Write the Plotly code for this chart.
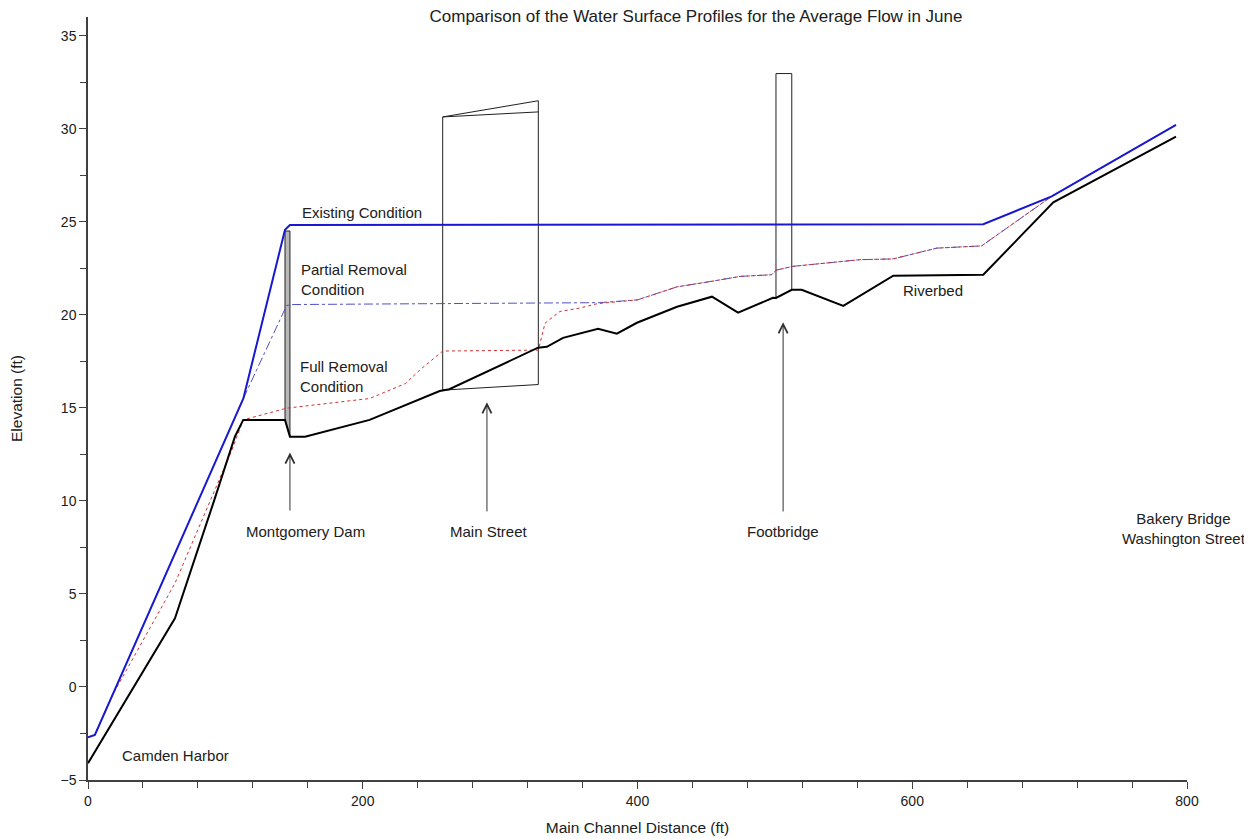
import plotly.graph_objects as go

# ---------------- data ----------------
bed_x = [0, 63.3, 91.2, 107, 113, 143.4, 147, 158, 205, 256, 263, 327.6, 334, 345.8, 371.3, 385, 399.6,
         428.8, 454.2, 473.2, 498.6, 500.8, 512.3, 519.5, 549.8, 586.2, 651.7, 702.7, 792]
bed_y = [-4.1, 3.69, 9.88, 13.46, 14.35, 14.35, 13.45, 13.45, 14.35, 15.9, 16.0, 18.23, 18.28, 18.76, 19.25,
         18.98, 19.57, 20.43, 20.97, 20.11, 20.91, 20.9, 21.34, 21.34, 20.48, 22.1, 22.15, 26.04, 29.57]

exist_x = [0, 5, 113.1, 143.4, 147, 650, 651.7, 701.5, 792]
exist_y = [-2.7, -2.58, 15.5, 24.57, 24.82, 24.85, 24.87, 26.36, 30.2]

partial_x = [113.1, 144.6, 150, 258, 328, 372, 400, 428.8, 454.2, 474.6, 497.6, 501, 513, 562, 586,
             617.8, 650.5, 698, 701.5, 792]
partial_y = [15.5, 20.5, 20.55, 20.58, 20.6, 20.65, 20.8, 21.5, 21.8, 22.06, 22.15, 22.4, 22.6, 22.96, 23.0,
             23.58, 23.7, 26.2, 26.36, 30.2]

full_x = [0, 5, 17.3, 63.3, 104.6, 113, 144.6, 205, 231, 241.7, 258.2, 327.8, 332.7, 343.6, 358, 371, 400,
          428.8, 454.2, 474.6, 497.6, 501, 513, 562, 586, 617.8, 650.5, 698, 701.5, 792]
full_y = [-2.7, -2.58, -0.5, 5.57, 12.7, 14.35, 14.98, 15.5, 16.3, 17.04, 18.05, 18.1, 19.55, 20.18, 20.36,
          20.6, 20.8, 21.5, 21.8, 22.06, 22.15, 22.4, 22.6, 22.96, 23.0, 23.58, 23.7, 26.2, 26.36, 30.2]

# structures (outline geometry, ft / elevation)
dam_x = [143.4, 143.4, 147, 147, 143.4]
dam_y = [14.35, 24.5, 24.5, 13.45, 14.35]

mainst_x = [258.2, 258.2, 327.8, 327.8, 258.2, None, 258.2, 327.8]
mainst_y = [15.95, 30.63, 31.5, 16.25, 15.95, None, 30.63, 30.9]

foot_x = [500.8, 500.8, 512.3, 512.3]
foot_y = [20.9, 32.96, 32.96, 21.34]

# labelled locations: (label, x, arrow tip elevation, arrow tail elevation)
site_names = ["Montgomery Dam", "Main Street", "Footbridge", "Bakery Bridge<br>Washington Street"]
site_x = [147, 290.4, 506, 804]
site_tip = [12.6, 15.3, 19.6, 26.9]
site_tail = [9.4, 9.35, 9.35, 9.9]
site_label_x = [158, 292, 506, 797.7]
site_label_y = [8.33, 8.33, 8.33, 8.51]

# free text labels
text_labels = ["Existing Condition", "Partial Removal<br>Condition", "Full Removal<br>Condition",
               "Riverbed", "Camden Harbor"]
text_x = [154, 153.5, 153, 592, 23]
text_y = [25.47, 21.87, 16.66, 21.33, -3.71]

# ---------------- figure ----------------
fig = go.Figure()

fig.add_trace(go.Scatter(x=dam_x, y=dam_y, mode="lines", fill="toself", fillcolor="#b8b8b8",
                         line=dict(color="#202020", width=1), hoverinfo="skip", showlegend=False))
fig.add_trace(go.Scatter(x=mainst_x, y=mainst_y, mode="lines", line=dict(color="#202020", width=1),
                         hoverinfo="skip", showlegend=False))
fig.add_trace(go.Scatter(x=foot_x, y=foot_y, mode="lines", line=dict(color="#202020", width=1),
                         hoverinfo="skip", showlegend=False))

fig.add_trace(go.Scatter(x=partial_x, y=partial_y, mode="lines", name="Partial Removal Condition",
                         line=dict(color="#5050c8", width=1, dash="dashdot"), showlegend=False))
fig.add_trace(go.Scatter(x=full_x, y=full_y, mode="lines", name="Full Removal Condition",
                         line=dict(color="#d03030", width=1, dash="dot"), showlegend=False))
fig.add_trace(go.Scatter(x=exist_x, y=exist_y, mode="lines", name="Existing Condition",
                         line=dict(color="#1818d0", width=2), showlegend=False))
fig.add_trace(go.Scatter(x=bed_x, y=bed_y, mode="lines", name="Riverbed",
                         line=dict(color="#000000", width=2), showlegend=False))

FONT = "Liberation Sans, Arial, sans-serif"
annotations = []
for sx, tip, tail in zip(site_x, site_tip, site_tail):
    annotations.append(dict(x=sx, y=tip, ax=sx, ay=tail, xref="x", yref="y", axref="x", ayref="y",
                            text="", showarrow=True, arrowhead=5, arrowsize=1.8, arrowwidth=1,
                            arrowcolor="#303030"))
for name, lx, ly in zip(site_names, site_label_x, site_label_y):
    annotations.append(dict(x=lx, y=ly, xref="x", yref="y", text=name, showarrow=False,
                            xanchor="center", yanchor="middle", align="center",
                            font=dict(family=FONT, size=15, color="#202020")))
for t, tx, ty in zip(text_labels, text_x, text_y):
    annotations.append(dict(x=tx, y=ty, xref="x", yref="y", text=t, showarrow=False,
                            xanchor="left", yanchor="middle", align="left",
                            font=dict(family=FONT, size=15, color="#202020")))

fig.update_layout(
    width=1252, height=839,
    margin=dict(l=80, r=73, t=9, b=67, autoexpand=False),
    paper_bgcolor="white", plot_bgcolor="white",
    font=dict(family=FONT, size=14, color="#202020"),
    title=dict(text="Comparison of the Water Surface Profiles for the Average Flow in June",
               x=0.5495, xref="container", xanchor="center", y=0.9905, yref="container", yanchor="middle",
               font=dict(family=FONT, size=17, color="#202020")),
    annotations=annotations,
    showlegend=False,
)
fig.update_xaxes(range=[0, 800], showline=True, linecolor="#404040", linewidth=1.5, showgrid=False,
                 zeroline=False, ticks="outside", ticklen=7, tickcolor="#404040", dtick=200, tick0=0,
                 minor=dict(dtick=40, ticks="outside", ticklen=6, tickcolor="#404040"),
                 automargin=False,
                 title=dict(text="Main Channel Distance (ft)", standoff=15,
                            font=dict(family=FONT, size=15.5)))
fig.update_yaxes(range=[-5, 36], showline=True, linecolor="#404040", linewidth=1.5, showgrid=False,
                 zeroline=False, ticks="outside", ticklen=7, tickcolor="#404040", dtick=5, tick0=0,
                 minor=dict(dtick=2.5, ticks="outside", ticklen=6, tickcolor="#404040"),
                 automargin=False,
                 title=dict(text="Elevation (ft)", standoff=38, font=dict(family=FONT, size=15.5)))

fig.write_html("out.html")
